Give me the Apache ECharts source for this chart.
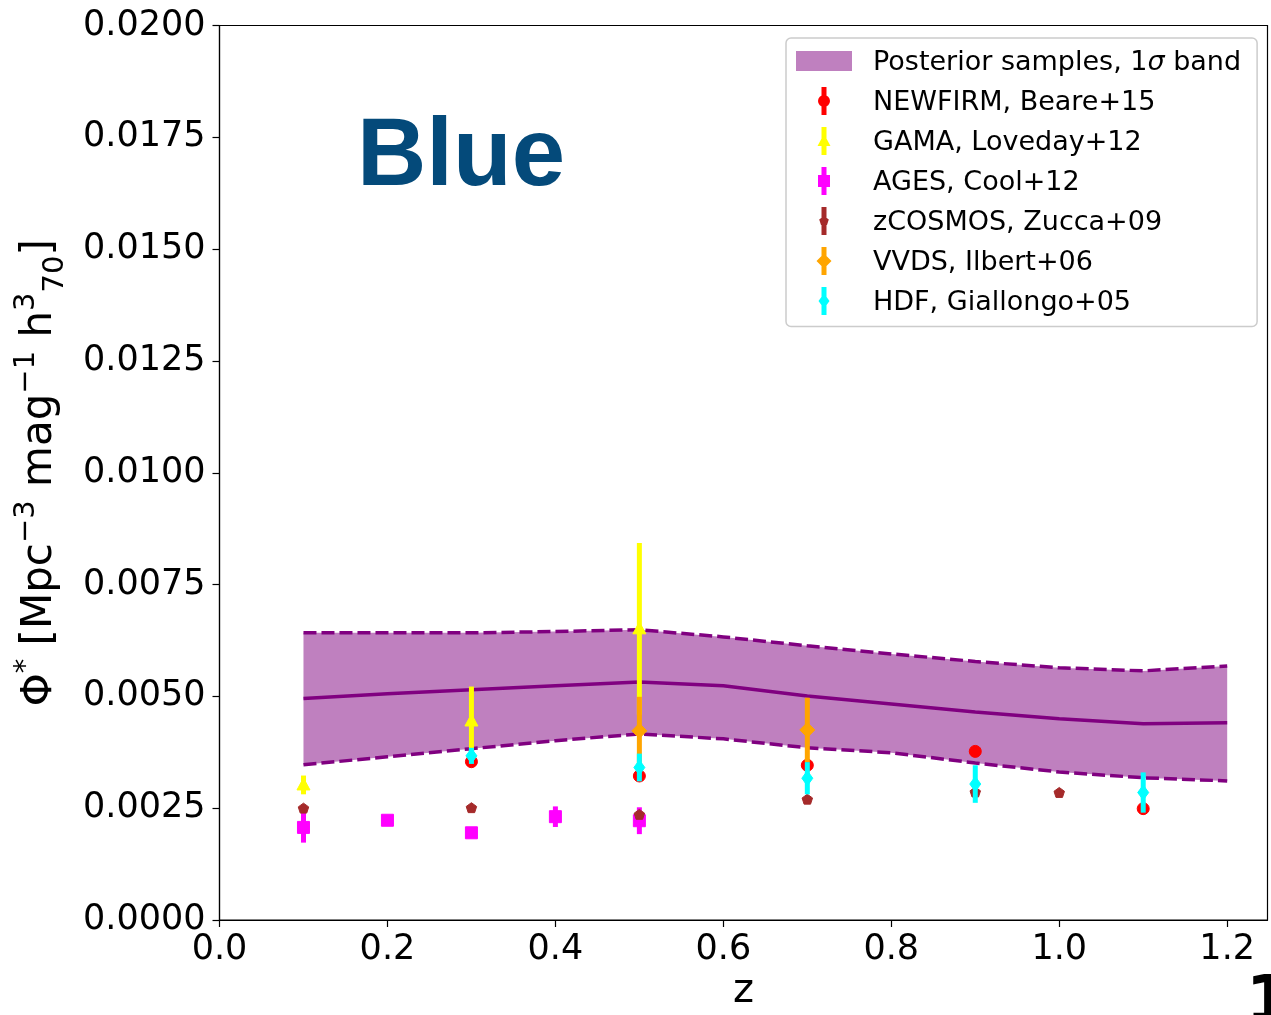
<!DOCTYPE html>
<html>
<head>
<meta charset="utf-8">
<script src="https://cdn.jsdelivr.net/npm/echarts@6/dist/echarts.min.js"></script>
<style>
html,body{margin:0;padding:0;background:#fff;}
#chart{width:1271px;height:1015px;}
</style>
</head>
<body>
<div id="chart"></div>
<script>
// ---- Posterior band (z grid) ----
const bandX     = [0.1, 0.2, 0.3, 0.4, 0.5, 0.6, 0.7, 0.8, 0.9, 1.0, 1.1, 1.2];
const bandUpper = [0.00642, 0.00642, 0.00642, 0.00645, 0.00649, 0.00633, 0.00613, 0.00595, 0.00578, 0.00564, 0.00557, 0.00568];
const bandMid   = [0.00495, 0.00506, 0.00515, 0.00524, 0.00532, 0.00524, 0.00501, 0.00483, 0.00465, 0.00450, 0.00439, 0.00441];
const bandLower = [0.00347, 0.00365, 0.00383, 0.00401, 0.00416, 0.00405, 0.00385, 0.00374, 0.00351, 0.00331, 0.00318, 0.00311];

// ---- Literature measurements ----
const newfirmZ   = [0.3, 0.5, 0.7, 0.9, 1.1];
const newfirmPhi = [0.00354, 0.00322, 0.00346, 0.00377, 0.00249];
const newfirmErr = [0.0001, 0.0001, 0.0001, 0.0001, 0.0001];

const gamaZ   = [0.1, 0.3, 0.5];
const gamaPhi = [0.00302, 0.00445, 0.00651];
const gamaErr = [0.00021, 0.00077, 0.00192];

const agesZ   = [0.1, 0.2, 0.3, 0.4, 0.5];
const agesPhi = [0.00207, 0.00223, 0.00195, 0.00231, 0.00222];
const agesErr = [0.00034, 0.0001, 0.0001, 0.00023, 0.0003];

const zcosZ   = [0.1, 0.3, 0.5, 0.7, 0.9, 1.0];
const zcosPhi = [0.00249, 0.0025, 0.00235, 0.00269, 0.00285, 0.00284];
const zcosErr = [0.00005, 0.00005, 0.00005, 0.00005, 0.00005, 0.00005];

const vvdsZ   = [0.5, 0.7];
const vvdsPhi = [0.00423, 0.00425];
const vvdsErr = [0.00076, 0.00072];

const hdfZ   = [0.3, 0.5, 0.7, 0.9, 1.1];
const hdfPhi = [0.00367, 0.00341, 0.00317, 0.00304, 0.00285];
const hdfErr = [0.00018, 0.00031, 0.00036, 0.00042, 0.00045];

// ---- Axis ticks ----
const xTicks = [0.0, 0.2, 0.4, 0.6, 0.8, 1.0, 1.2];
const yTicks = [0.0000, 0.0025, 0.0050, 0.0075, 0.0100, 0.0125, 0.0150, 0.0175, 0.0200];

const BAND_NAME = 'Posterior samples, 1σ band';
const PURPLE = '#800080';
const BAND_FILL = '#bf80bf';

function rows(xs, ys, es) { return xs.map((x, i) => [x, ys[i], es[i]]); }

function markerShape(kind, cx, cy, color) {
  const st = { fill: color, stroke: color, lineWidth: 1 };
  if (kind === 'circle') return { type: 'circle', shape: { cx, cy, r: 6 }, style: st };
  if (kind === 'square') return { type: 'rect', shape: { x: cx - 6, y: cy - 6, width: 12, height: 12 }, style: st };
  let pts;
  if (kind === 'triangle') pts = [[cx, cy - 7], [cx + 6.5, cy + 5], [cx - 6.5, cy + 5]];
  else if (kind === 'diamond') pts = [[cx, cy - 7.5], [cx + 7.5, cy], [cx, cy + 7.5], [cx - 7.5, cy]];
  else if (kind === 'thindiamond') pts = [[cx, cy - 7.5], [cx + 5.5, cy], [cx, cy + 7.5], [cx - 5.5, cy]];
  else if (kind === 'pentagon') {
    pts = [];
    for (let k = 0; k < 5; k++) {
      const a = (-90 + 72 * k) * Math.PI / 180;
      pts.push([cx + 5.5 * Math.cos(a), cy + 5.5 * Math.sin(a)]);
    }
  }
  return { type: 'polygon', shape: { points: pts }, style: st };
}

function errSeries(name, data, color, kind) {
  return {
    name: name,
    type: 'custom',
    data: data,
    encode: { x: 0, y: 1 },
    itemStyle: { color: color },
    silent: true,
    z: 5,
    renderItem: function (params, api) {
      const x = api.value(0), y = api.value(1), e = api.value(2);
      const c = api.coord([x, y]);
      const t = api.coord([x, y + e]);
      const b = api.coord([x, y - e]);
      return {
        type: 'group',
        children: [
          { type: 'line', shape: { x1: c[0], y1: t[1], x2: c[0], y2: b[1] }, style: { stroke: color, lineWidth: 5 } },
          markerShape(kind, c[0], c[1], color)
        ]
      };
    }
  };
}

// legend icon paths (box 56 x 28)
const BOX = 'M0 14 M56 14 ';
const BAR = 'M25.5 0 L30.5 0 L30.5 28 L25.5 28 Z ';
const icons = {
  band: 'path://M0 0 M56 28 M0 4 L56 4 L56 24 L0 24 Z',
  circle: 'path://' + BOX + BAR + 'M34 14 A6 6 0 1 1 22 14 A6 6 0 1 1 34 14 Z',
  triangle: 'path://' + BOX + BAR + 'M28 7 L34.5 19 L21.5 19 Z',
  square: 'path://' + BOX + BAR + 'M22 8 L34 8 L34 20 L22 20 Z',
  pentagon: 'path://' + BOX + BAR + 'M28 9 L32.8 12.5 L31 18 L25 18 L23.2 12.5 Z',
  diamond: 'path://' + BOX + BAR + 'M28 6.5 L35.5 14 L28 21.5 L20.5 14 Z',
  thindiamond: 'path://' + BOX + BAR + 'M28 6.5 L33.5 14 L28 21.5 L22.5 14 Z'
};

const chart = echarts.init(document.getElementById('chart'), null, { renderer: 'canvas' });

const option = {
  animation: false,
  backgroundColor: '#fff',
  grid: {
    left: 219.5, right: 3.5, top: 25.5, bottom: 95,
    show: true, borderColor: '#000', borderWidth: 1.2, backgroundColor: 'transparent',
    containLabel: false, outerBoundsMode: 'none'
  },
  xAxis: {
    type: 'value', min: 0, max: 1.248, interval: 0.2,
    name: 'z', nameLocation: 'middle', nameGap: 52,
    nameTextStyle: { fontFamily: 'DejaVu Sans', fontSize: 40, color: '#000' },
    axisLine: { show: true, onZero: false, lineStyle: { color: '#000', width: 1.2 } },
    axisTick: { show: true, length: 7, lineStyle: { color: '#000', width: 1.2 },
      customValues: xTicks },
    axisLabel: { fontFamily: 'DejaVu Sans', fontSize: 35, color: '#000', margin: 12,
      customValues: xTicks,
      formatter: v => v.toFixed(1) },
    splitLine: { show: false }
  },
  yAxis: {
    type: 'value', min: 0, max: 0.02, interval: 0.0025,
    name: '{b|Φ}{s|*}{b| [Mpc}{s|−3}{b| mag}{s|−1}{b| h}{s|3}{u|70}{b|]}',
    nameLocation: 'middle', nameGap: 150, nameRotate: 90,
    nameTextStyle: {
      color: '#000', fontFamily: 'DejaVu Sans', fontSize: 42,
      rich: {
        b: { fontFamily: 'DejaVu Sans', fontSize: 42, lineHeight: 58, color: '#000' },
        s: { fontFamily: 'DejaVu Sans', fontSize: 29, lineHeight: 29, verticalAlign: 'top', color: '#000' },
        u: { fontFamily: 'DejaVu Sans', fontSize: 29, lineHeight: 29, verticalAlign: 'bottom', color: '#000' }
      }
    },
    axisLine: { show: true, onZero: false, lineStyle: { color: '#000', width: 1.2 } },
    axisTick: { show: true, length: 7, lineStyle: { color: '#000', width: 1.2 } },
    axisLabel: { fontFamily: 'DejaVu Sans', fontSize: 35, color: '#000', margin: 14,
      formatter: v => v.toFixed(4) },
    splitLine: { show: false }
  },
  legend: {
    orient: 'vertical', left: 786, top: 38,
    padding: [9, 16, 10, 10],
    itemWidth: 56, itemHeight: 28, itemGap: 10.5,
    backgroundColor: '#fff', borderColor: '#cccccc', borderWidth: 1.5, borderRadius: 5,
    selectedMode: false,
    textStyle: { fontFamily: 'DejaVu Sans', fontSize: 27, lineHeight: 24, color: '#000', padding: [4, 0, 0, 16],
      rich: {
        i: { fontFamily: 'DejaVu Sans', fontStyle: 'italic', fontSize: 27, lineHeight: 24, color: '#000' }
      }
    },
    formatter: name => name.replace('σ', '{i|σ}'),
    data: [
      { name: BAND_NAME, icon: icons.band, itemStyle: { color: BAND_FILL } },
      { name: 'NEWFIRM, Beare+15', icon: icons.circle, itemStyle: { color: '#ff0000' } },
      { name: 'GAMA, Loveday+12', icon: icons.triangle, itemStyle: { color: '#ffff00' } },
      { name: 'AGES, Cool+12', icon: icons.square, itemStyle: { color: '#ff00ff' } },
      { name: 'zCOSMOS, Zucca+09', icon: icons.pentagon, itemStyle: { color: '#a52a2a' } },
      { name: 'VVDS, Ilbert+06', icon: icons.diamond, itemStyle: { color: '#ffa500' } },
      { name: 'HDF, Giallongo+05', icon: icons.thindiamond, itemStyle: { color: '#00ffff' } }
    ]
  },
  graphic: [
    { type: 'text', left: 357, top: 111, z: 10,
      style: { text: 'Blue', font: 'bold 96px "Liberation Sans", Arial, sans-serif', fill: '#044a7a' } },
    { type: 'text', left: 1246, top: 972, z: 10,
      style: { text: '1', font: 'bold 64px "DejaVu Sans", sans-serif', fill: '#000' } }
  ],
  series: [
    {
      name: BAND_NAME,
      type: 'custom',
      data: [[bandX[0], bandMid[0]]],
      encode: { x: 0, y: 1 },
      itemStyle: { color: BAND_FILL },
      silent: true,
      z: 1,
      renderItem: function (params, api) {
        const pts = [];
        for (let i = 0; i < bandX.length; i++) pts.push(api.coord([bandX[i], bandUpper[i]]));
        for (let i = bandX.length - 1; i >= 0; i--) pts.push(api.coord([bandX[i], bandLower[i]]));
        return { type: 'polygon', shape: { points: pts }, style: { fill: BAND_FILL, stroke: null } };
      }
    },
    {
      name: 'upper', type: 'line', data: bandX.map((x, i) => [x, bandUpper[i]]),
      symbol: 'none', silent: true, z: 2,
      lineStyle: { color: PURPLE, width: 3.5, type: [13, 5] }
    },
    {
      name: 'lower', type: 'line', data: bandX.map((x, i) => [x, bandLower[i]]),
      symbol: 'none', silent: true, z: 2,
      lineStyle: { color: PURPLE, width: 3.5, type: [13, 5] }
    },
    {
      name: 'median', type: 'line', data: bandX.map((x, i) => [x, bandMid[i]]),
      symbol: 'none', silent: true, z: 2,
      lineStyle: { color: PURPLE, width: 3.5 }
    },
    errSeries('NEWFIRM, Beare+15', rows(newfirmZ, newfirmPhi, newfirmErr), '#ff0000', 'circle'),
    errSeries('GAMA, Loveday+12', rows(gamaZ, gamaPhi, gamaErr), '#ffff00', 'triangle'),
    errSeries('AGES, Cool+12', rows(agesZ, agesPhi, agesErr), '#ff00ff', 'square'),
    errSeries('zCOSMOS, Zucca+09', rows(zcosZ, zcosPhi, zcosErr), '#a52a2a', 'pentagon'),
    errSeries('VVDS, Ilbert+06', rows(vvdsZ, vvdsPhi, vvdsErr), '#ffa500', 'diamond'),
    errSeries('HDF, Giallongo+05', rows(hdfZ, hdfPhi, hdfErr), '#00ffff', 'thindiamond')
  ]
};

chart.setOption(option);
</script>
</body>
</html>
